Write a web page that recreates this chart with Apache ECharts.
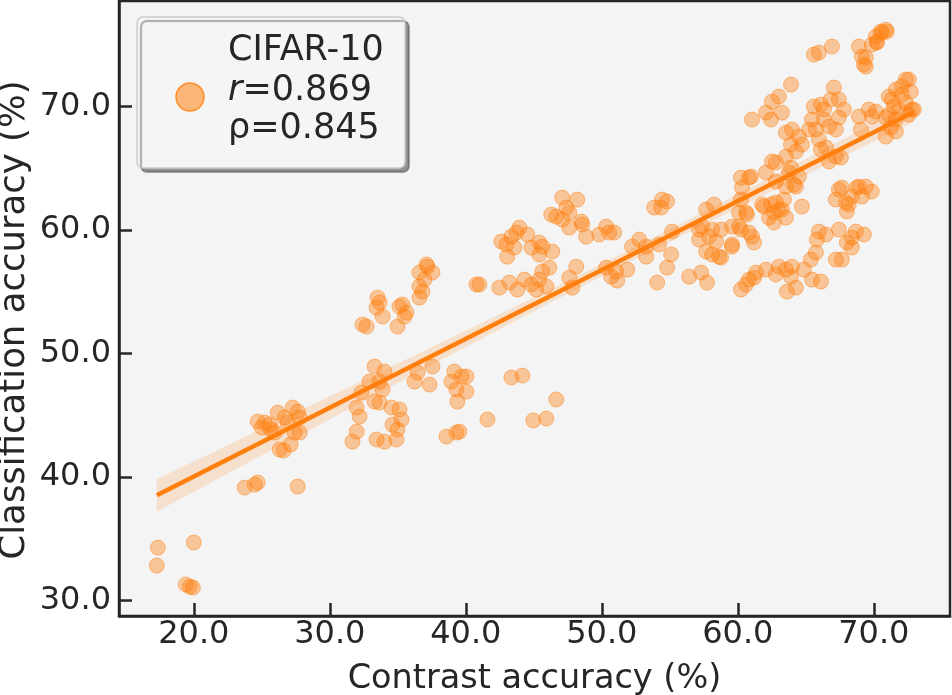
<!DOCTYPE html>
<html>
<head>
<meta charset="utf-8">
<title>CIFAR-10: contrast vs classification accuracy</title>
<script src="https://cdn.jsdelivr.net/npm/echarts@6/dist/echarts.min.js"></script>
<style>
  html, body { margin: 0; padding: 0; background: #fff; }
  #chart { width: 952px; height: 695px; }
</style>
</head>
<body>
<div id="chart"></div>
<script>
// contrast accuracy (x) and classification accuracy (y)
var contrastAcc = [
  17.36, 17.28, 20.00, 19.41, 19.71, 19.93,
  23.74, 24.48, 24.70, 27.64, 24.70, 25.21, 25.58, 26.17, 26.68, 27.27, 27.64, 27.78, 25.65, 25.95, 26.31, 26.61, 27.42, 27.12, 27.78, 24.99, 26.90,
  33.29, 34.02, 32.92, 33.66, 32.33, 33.88, 33.29, 33.66, 31.97, 32.19, 34.54, 35.12, 35.27, 34.61, 34.98, 31.97, 31.67, 33.44, 34.02, 34.90,
  36.45, 36.23, 37.33, 37.55, 39.16, 39.68, 38.94, 40.04, 39.31, 40.04, 39.38, 38.58, 39.31, 39.53,
  41.59, 43.35, 44.16, 46.65, 44.96, 45.92,
  33.51, 33.66, 33.44, 33.88, 32.41, 32.70, 35.12, 35.49, 34.98, 35.34, 35.64,
  36.59, 37.18, 37.55, 36.96, 36.59, 36.81, 36.59, 37.11, 40.78, 41.00,
  42.61, 42.98, 43.35, 43.72, 43.94, 44.52, 43.57, 43.05, 44.82, 45.40, 45.62, 45.40, 46.36,
  42.47, 43.20, 43.79, 44.30, 44.82, 45.18, 45.40, 45.62, 46.14, 45.92,
  47.09, 48.19, 46.28, 46.65, 47.39, 47.61, 47.09, 47.61, 48.49, 48.56, 48.85, 49.81, 50.32, 50.54, 50.91,
  47.61, 48.12, 47.83,
  50.32, 51.06, 50.69, 51.13, 51.87, 52.23, 52.75, 53.26, 53.26, 54.21, 55.17, 55.10, 54.80, 54.07, 53.85, 54.43, 54.80, 54.36,
  56.42, 57.30, 57.74, 57.15, 57.67, 58.11, 58.77, 58.40, 58.11, 57.67, 58.25, 57.37, 57.15, 57.89, 58.62, 58.77,
  60.09, 60.67, 59.57, 60.23, 59.57, 61.04, 61.19, 59.57, 60.09, 60.60, 60.82,
  60.23, 60.82, 61.34, 60.60, 60.23, 60.82, 60.23, 60.31, 60.97,
  62.07, 61.78, 62.29, 62.66, 63.24, 63.54, 62.66, 63.39, 64.27, 64.71, 63.91, 64.49, 62.80, 62.51, 62.80, 63.54, 63.76, 64.13, 62.44, 63.02, 61.92, 62.80,
  62.07, 62.80, 63.02, 63.54, 63.91, 63.98, 63.61, 64.27, 64.86, 65.45, 66.11, 65.37, 65.74, 65.81, 65.96, 66.48, 61.19,
  67.43, 68.02, 67.65, 67.21, 68.38, 68.68, 69.27, 68.38, 67.21, 67.65, 68.16, 68.02, 68.75, 69.41, 69.85, 69.12, 67.43, 67.94, 68.90, 68.38,
  61.04, 62.07, 62.44, 62.51, 63.02, 63.24, 63.91, 63.54, 63.98, 64.49, 63.91, 64.27, 63.54, 64.71, 65.45, 65.23, 65.74, 65.96, 65.59, 66.11,
  66.33, 66.33, 66.70, 67.21, 67.06, 66.84, 67.43, 67.80, 67.43, 66.11, 66.48, 66.70, 67.58, 67.21,
  68.90, 69.63, 70.15, 69.05, 69.85, 70.88, 71.25, 71.47, 71.10, 71.62, 72.06, 72.57, 72.06, 72.72, 72.35, 72.94, 71.84, 70.88, 71.62, 72.35,
  71.32, 72.79, 72.57, 71.10, 71.62,
  65.96, 66.92, 65.59, 68.90, 69.12, 69.41, 69.85, 70.22, 70.59, 70.95, 70.88, 70.51, 70.15, 70.22, 69.27, 69.41
];
var classAcc = [
  34.29, 32.83, 34.70, 31.30, 31.13, 31.05,
  39.15, 39.39, 39.56, 39.23, 44.50, 44.41, 44.25, 45.22, 44.82, 45.63, 45.30, 44.82, 43.85, 43.60, 42.23, 42.15, 43.60, 42.63, 43.60, 44.01, 44.41,
  48.95, 48.54, 47.73, 47.73, 46.84, 47.09, 46.11, 46.03, 45.63, 44.90, 45.63, 45.47, 44.66, 44.25, 43.85, 43.68, 42.87, 43.04, 42.87, 43.04,
  48.46, 47.73, 47.49, 48.95, 48.54, 48.14, 47.73, 48.14, 47.09, 46.92, 46.11, 43.28, 43.60, 43.68,
  44.66, 48.06, 48.22, 46.28, 44.58, 44.74,
  54.53, 54.13, 53.72, 53.00, 52.35, 52.19, 53.81, 53.00, 52.19, 53.97, 53.32,
  56.56, 57.04, 56.56, 55.99, 55.43, 55.02, 54.53, 57.21, 55.59, 55.59,
  59.07, 58.83, 59.47, 59.80, 60.20, 59.64, 58.58, 57.85, 58.58, 58.99, 58.66, 58.02, 58.26,
  55.34, 55.75, 55.18, 55.99, 55.59, 55.18, 55.99, 56.64, 56.96, 55.43,
  62.63, 62.47, 61.26, 61.09, 61.82, 61.42, 60.85, 60.20, 60.69, 60.45, 59.47, 59.64, 60.28, 59.80, 59.80,
  56.15, 57.04, 55.34,
  56.96, 56.64, 56.23, 55.91, 56.80, 58.66, 59.23, 58.66, 57.85, 58.83, 59.88, 58.02, 56.96, 55.75, 61.82, 62.47, 62.31, 61.82,
  56.23, 56.56, 55.75, 59.23, 58.26, 58.02, 57.77, 59.07, 60.04, 61.66, 62.07, 60.28, 60.04, 59.47, 57.85, 60.04,
  61.42, 61.26, 60.28, 60.04, 58.66, 59.47, 58.99, 58.83, 60.28, 61.42, 59.80,
  55.18, 55.99, 56.56, 55.59, 64.25, 64.25, 62.47, 63.44, 64.33,
  64.66, 62.07, 61.01, 61.42, 61.66, 61.01, 60.61, 62.47, 63.52, 61.90, 65.06, 64.33, 65.47, 65.55, 63.93, 63.52, 64.66, 63.68, 62.07, 61.66, 61.90, 62.23,
  56.80, 56.40, 57.04, 56.80, 56.23, 57.04, 55.02, 55.34, 56.80, 55.99, 55.83, 57.61, 58.18, 59.23, 59.88, 59.64, 56.15,
  60.04, 58.99, 57.61, 57.61, 58.58, 59.88, 59.64, 59.39, 62.47, 63.44, 62.07, 61.50, 63.44, 63.52, 63.12, 62.71, 63.28, 62.23, 63.52, 62.71,
  68.95, 69.51, 68.95, 70.40, 70.81, 69.51, 71.78, 67.89, 68.14, 67.57, 66.92, 66.36, 65.95, 66.92, 68.95, 68.14, 68.14, 67.33, 70.00, 70.16,
  69.76, 68.95, 68.38, 68.14, 71.54, 70.57, 70.57, 69.76, 69.11, 66.52, 66.68, 65.55, 65.87, 65.95,
  69.19, 69.76, 69.60, 68.14, 69.19, 69.11, 68.30, 70.00, 70.81, 71.38, 71.62, 72.19, 70.97, 71.21, 70.32, 69.76, 69.76, 67.57, 67.98, 72.19,
  70.57, 69.76, 69.35, 69.35, 68.95,
  74.37, 74.86, 74.21, 74.86, 74.05, 73.24, 75.02, 75.26, 75.99, 76.07, 76.23, 76.07, 75.67, 75.18, 73.40, 73.97
];
var xTicks = [20, 30, 40, 50, 60, 70];
var yTicks = [30, 40, 50, 60, 70];
var xTitle = 'Contrast accuracy (%)';
var yTitle = 'Classification accuracy (%)';
var datasetName = 'CIFAR-10';
var pearsonR = 0.869;
var spearmanRho = 0.845;

var orange = '#ff7f0e';
var ink = '#262626';
var font = 'DejaVu Sans';

// least squares fit + 95% confidence band (what regplot draws)
var n = contrastAcc.length;
var mx = 0, my = 0;
for (var i = 0; i < n; i++) { mx += contrastAcc[i]; my += classAcc[i]; }
mx /= n; my /= n;
var sxx = 0, sxy = 0;
for (i = 0; i < n; i++) {
  sxx += (contrastAcc[i] - mx) * (contrastAcc[i] - mx);
  sxy += (contrastAcc[i] - mx) * (classAcc[i] - my);
}
var slope = sxy / sxx;
var icpt = my - slope * mx;
var sse = 0;
for (i = 0; i < n; i++) {
  var res = classAcc[i] - (icpt + slope * contrastAcc[i]);
  sse += res * res;
}
var sres = Math.sqrt(sse / (n - 2));
var xMin = Math.min.apply(null, contrastAcc);
var xMax = Math.max.apply(null, contrastAcc);

var bandX = [], bandLo = [], bandHi = [];
for (i = 0; i <= 60; i++) {
  var bx = xMin + (xMax - xMin) * i / 60;
  var half = 1.97 * sres * Math.sqrt(1 / n + (bx - mx) * (bx - mx) / sxx);
  bandX.push(bx);
  bandLo.push(icpt + slope * bx - half);
  bandHi.push(icpt + slope * bx + half);
}

var points = contrastAcc.map(function (x, k) { return [x, classAcc[k]]; });

var chart = echarts.init(document.getElementById('chart'));
chart.setOption({
  animation: false,
  backgroundColor: '#ffffff',
  grid: {
    left: 119, right: 2, top: 1, bottom: 79,
    containLabel: false, outerBoundsMode: 'none',
    show: true, backgroundColor: '#f4f4f4',
    borderColor: ink, borderWidth: 2.5
  },
  xAxis: {
    type: 'value', min: 14.5, max: 75.6,
    name: xTitle, nameLocation: 'middle', nameGap: 46,
    nameTextStyle: { fontSize: 33.5, color: ink, fontFamily: font },
    axisLine: { onZero: false, lineStyle: { color: ink, width: 2.5 } },
    axisTick: { inside: true, length: 13, customValues: xTicks, lineStyle: { color: ink, width: 2.5 } },
    axisLabel: {
      customValues: xTicks, margin: 3, fontSize: 32, color: ink, fontFamily: font,
      formatter: function (v) { return v.toFixed(1); }
    },
    splitLine: { show: false }
  },
  yAxis: {
    type: 'value', min: 28.75, max: 78.55,
    axisLine: { onZero: false, lineStyle: { color: ink, width: 2.5 } },
    axisTick: { inside: true, length: 13, customValues: yTicks, lineStyle: { color: ink, width: 2.5 } },
    axisLabel: {
      customValues: yTicks, margin: 8, fontSize: 32, color: ink, fontFamily: font,
      formatter: function (v) { return v.toFixed(1); }
    },
    splitLine: { show: false }
  },
  series: [
    {
      type: 'scatter',
      data: points,
      symbolSize: 15,
      itemStyle: { color: 'rgba(255,127,14,0.5)', borderColor: 'rgba(255,127,14,0.6)', borderWidth: 1 },
      z: 2, silent: true
    },
    {
      type: 'custom',
      data: [[bandX[0], bandLo[0]]],
      renderItem: function (params, api) {
        var pts = [];
        for (var j = 0; j < bandX.length; j++) pts.push(api.coord([bandX[j], bandHi[j]]));
        for (j = bandX.length - 1; j >= 0; j--) pts.push(api.coord([bandX[j], bandLo[j]]));
        return { type: 'polygon', shape: { points: pts }, style: { fill: 'rgba(255,127,14,0.16)' } };
      },
      z: 3, silent: true
    },
    {
      type: 'line',
      data: [[xMin, icpt + slope * xMin], [xMax, icpt + slope * xMax]],
      showSymbol: false,
      lineStyle: { color: orange, width: 4.5 },
      z: 4, silent: true
    }
  ],
  graphic: [
    {
      // y axis title, drawn by hand so it can sit right at the page edge
      type: 'text', z: 5, x: 15, y: 320, rotation: Math.PI / 2,
      style: { text: yTitle, fontSize: 35.5, fontFamily: font, fill: ink, align: 'center', verticalAlign: 'middle' }
    },
    {
      type: 'rect', z: 10,
      shape: { x: 137, y: 17, width: 268, height: 151, r: 6 },
      style: {
        fill: '#f5f5f5', stroke: '#cccccc', lineWidth: 1.5,
        shadowColor: 'rgba(0,0,0,0.4)', shadowBlur: 1, shadowOffsetX: 4, shadowOffsetY: 4
      }
    },
    {
      type: 'circle', z: 11,
      shape: { cx: 190, cy: 97, r: 14 },
      style: { fill: 'rgba(255,127,14,0.55)', stroke: 'rgba(255,127,14,0.8)', lineWidth: 1.5 }
    },
    {
      type: 'text', z: 11, x: 228, y: 51,
      style: { text: datasetName, fontSize: 35, fontFamily: font, fill: ink, verticalAlign: 'middle' }
    },
    {
      type: 'text', z: 11, x: 228, y: 91,
      style: {
        text: '{i|r}{n|=' + pearsonR.toFixed(3) + '}', verticalAlign: 'middle',
        fontSize: 35, fontFamily: font, fill: ink,
        rich: {
          i: { fontStyle: 'italic', fontSize: 35, fontFamily: font, fill: ink },
          n: { fontSize: 35, fontFamily: font, fill: ink }
        }
      }
    },
    {
      type: 'text', z: 11, x: 228, y: 129,
      style: { text: '\u03c1=' + spearmanRho.toFixed(3), fontSize: 35, fontFamily: font, fill: ink, verticalAlign: 'middle' }
    }
  ]
});
</script>
</body>
</html>
